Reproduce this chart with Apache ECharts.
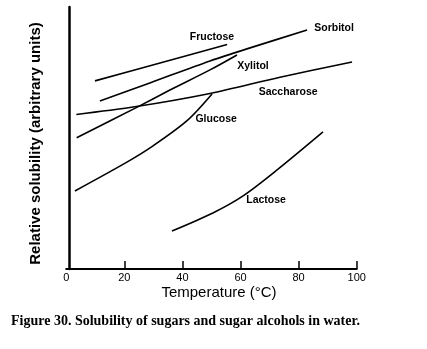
<!DOCTYPE html>
<html>
<head>
<meta charset="utf-8">
<script src="https://cdn.jsdelivr.net/npm/echarts@6/dist/echarts.min.js"></script>
<style>
html,body{margin:0;padding:0;background:#fff;}
#chart{width:427px;height:349px;}
</style>
</head>
<body>
<div id="chart"></div>
<script>
// Data (temperature in °C, relative solubility in arbitrary units 0-100)
const seriesNames = ['Fructose', 'Sorbitol', 'Xylitol', 'Saccharose', 'Glucose', 'Lactose'];

const fructoseT = [9.9, 32.3, 55.4];
const fructoseV = [71.8, 78.6, 85.7];

const sorbitolT = [11.6, 28.8, 49.5, 63.3, 82.9];
const sorbitolV = [64.1, 71.0, 79.4, 84.4, 91.2];

const xylitolT = [3.6, 24.3, 35.7, 49.5, 58.8];
const xylitolV = [50.1, 61.7, 68.3, 76.0, 81.7];

const saccharoseT = [3.5, 23.0, 49.5, 73.6, 98.4];
const saccharoseV = [59.0, 61.8, 67.0, 73.2, 79.0];

const glucoseT = [3.0, 20.9, 29.9, 41.6, 50.2];
const glucoseV = [29.8, 40.8, 47.0, 56.6, 66.8];

const lactoseT = [36.4, 50.5, 60.9, 72.6, 88.4];
const lactoseV = [14.5, 21.4, 27.9, 37.8, 52.3];

const temperatureTicks = [0, 20, 40, 60, 80, 100];

const xTitle = 'Temperature (°C)';
const yTitle = 'Relative solubility (arbitrary units)';
const caption = 'Figure 30. Solubility of sugars and sugar alcohols in water.';

// label anchor points (data space) for curve names
const labelAnchors = {
  Fructose: [50.2, 88.5],
  Sorbitol: [92.2, 91.8],
  Xylitol: [64.3, 77.5],
  Saccharose: [76.4, 67.4],
  Glucose: [51.6, 57.3],
  Lactose: [68.8, 26.3]
};

const seriesData = {
  Fructose: [fructoseT, fructoseV],
  Sorbitol: [sorbitolT, sorbitolV],
  Xylitol: [xylitolT, xylitolV],
  Saccharose: [saccharoseT, saccharoseV],
  Glucose: [glucoseT, glucoseV],
  Lactose: [lactoseT, lactoseV]
};

const chart = echarts.init(document.getElementById('chart'), null, {renderer: 'canvas'});

const series = seriesNames.map(function (name) {
  const t = seriesData[name][0], v = seriesData[name][1];
  return {
    name: name,
    type: 'line',
    data: t.map(function (x, i) { return [x, v[i]]; }),
    smooth: 0.3,
    showSymbol: false,
    silent: true,
    lineStyle: {color: '#000', width: 1.6},
    markPoint: {
      symbol: 'circle',
      symbolSize: 1,
      itemStyle: {color: 'rgba(0,0,0,0)'},
      label: {
        show: true,
        position: 'inside',
        formatter: name,
        color: '#000',
        fontFamily: 'Liberation Sans',
        fontWeight: 'bold',
        fontSize: 10.5
      },
      data: [{coord: labelAnchors[name]}]
    }
  };
});

chart.setOption({
  animation: false,
  backgroundColor: '#fff',
  grid: {left: 66.2, right: 70.3, top: 7, bottom: 80},
  xAxis: {
    type: 'value',
    min: 0, max: 100, interval: 20,
    axisLine: {show: true, lineStyle: {color: '#000', width: 2}},
    axisTick: {show: true, inside: true, length: 8, customValues: temperatureTicks.slice(1), lineStyle: {color: '#000', width: 1.5}},
    axisLabel: {show: true, margin: 3, color: '#000', fontFamily: 'Liberation Sans', fontSize: 11, customValues: temperatureTicks},
    splitLine: {show: false}
  },
  yAxis: {
    type: 'value',
    min: 0, max: 100,
    offset: -3,
    axisLine: {show: true, lineStyle: {color: '#000', width: 2.5}},
    axisTick: {show: false},
    axisLabel: {show: false},
    splitLine: {show: false}
  },
  graphic: [
    {
      type: 'text',
      position: [219, 292.5],
      style: {text: xTitle, x: 0, y: 0, fill: '#000', font: '15px "Liberation Sans"', textAlign: 'center', textVerticalAlign: 'middle'}
    },
    {
      type: 'text',
      position: [35.5, 143.5],
      rotation: Math.PI / 2,
      style: {text: yTitle, x: 0, y: 0, fill: '#000', font: 'bold 15px "Liberation Sans"', textAlign: 'center', textVerticalAlign: 'middle'}
    },
    {
      type: 'text',
      position: [11, 321],
      style: {text: caption, x: 0, y: 0, fill: '#000', font: 'bold 14px "Liberation Serif"', textAlign: 'left', textVerticalAlign: 'middle'}
    }
  ],
  series: series
});
</script>
</body>
</html>
